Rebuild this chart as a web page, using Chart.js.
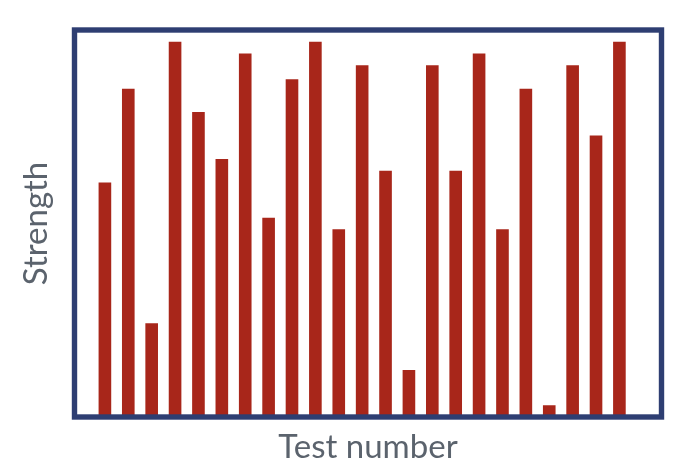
<!DOCTYPE html>
<html>
<head>
<meta charset="utf-8">
<script src="https://cdn.jsdelivr.net/npm/chart.js@4/dist/chart.umd.min.js"></script>
<style>
html,body{margin:0;padding:0;background:#fff;}
#c{display:block;}
</style>
</head>
<body>
<canvas id="c" width="692" height="474"></canvas>
<script>
const testNumbers = [1,2,3,4,5,6,7,8,9,10,11,12,13,14,15,16,17,18,19,20,21,22,23];
const strength = [20,28,8,32,26,22,31,17,28.8,32,16,30,21,4,30,21,31,16,28,1,30,24,32];
const xTitle = "Test number";
const yTitle = "Strength";

const frameColor = "#2e3e72";
const barColor = "#a8261a";
const textColor = "#5b636d";

const framePlugin = {
  id: "frame",
  afterDraw(chart) {
    const {ctx, chartArea: a} = chart;
    ctx.save();
    ctx.strokeStyle = frameColor;
    ctx.lineWidth = 5.4;
    ctx.strokeRect(a.left, a.top, a.right - a.left, a.bottom - a.top);
    ctx.restore();
  }
};

new Chart(document.getElementById("c"), {
  type: "bar",
  data: {
    datasets: [{
      data: testNumbers.map((x, i) => ({x: x, y: strength[i]})),
      backgroundColor: barColor,
      borderWidth: 0,
      categoryPercentage: 1,
      barPercentage: 0.54
    }]
  },
  options: {
    responsive: false,
    animation: false,
    devicePixelRatio: 1,
    layout: {padding: {left: 0, right: 30.5, top: 30, bottom: 0}},
    plugins: {legend: {display: false}, tooltip: {enabled: false}},
    scales: {
      x: {
        type: "linear",
        offset: false,
        min: -0.3,
        max: 24.8,
        grid: {display: false, drawTicks: false, offset: false},
        border: {display: false},
        ticks: {display: false},
        title: {
          display: true,
          text: xTitle,
          color: textColor,
          font: {family: "Lato", size: 33, lineHeight: 1},
          padding: {top: 13.8, bottom: 10.2}
        }
      },
      y: {
        min: 0,
        max: 33,
        grid: {display: false, drawTicks: false},
        border: {display: false},
        ticks: {display: false},
        title: {
          display: true,
          text: yTitle,
          color: textColor,
          font: {family: "Lato", size: 33, lineHeight: 1},
          padding: {top: 19.8, bottom: 21.7}
        }
      }
    }
  },
  plugins: [framePlugin]
});
</script>
</body>
</html>
